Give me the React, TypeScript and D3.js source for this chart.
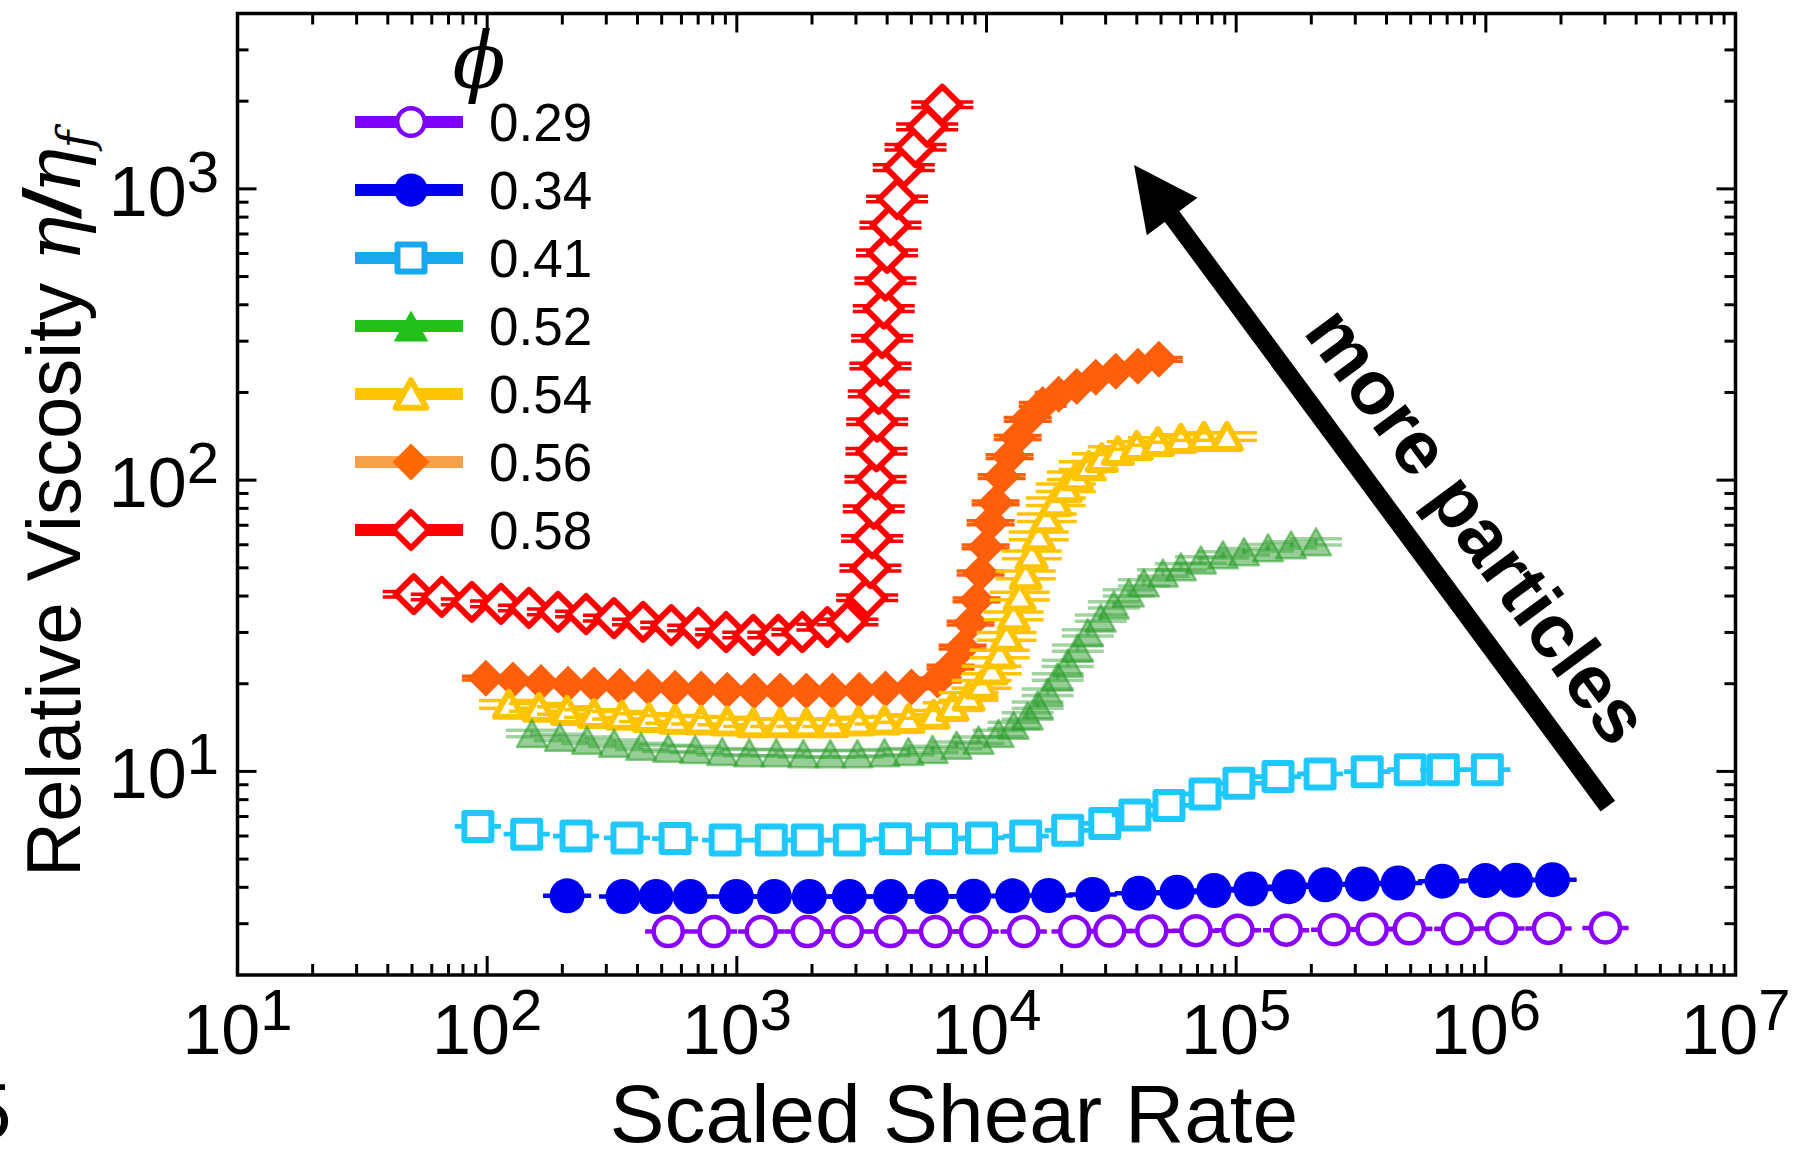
import React from "react";
import * as d3 from "d3";

// ---------------- data ----------------
const xDomain: [number, number] = [10, 1e7];
const yDomain: [number, number] = [2, 4000];
const xMajorExps = [1, 2, 3, 4, 5, 6, 7];
const yMajorExps = [1, 2, 3];
const phiValues = ["0.29", "0.34", "0.41", "0.52", "0.54", "0.56", "0.58"];

const rate029 = [531, 811, 1253, 1916, 2771, 4125, 6250, 9040, 14090, 22550, 31180, 45930, 69000, 101600, 158500, 246700, 350500, 493600, 769000, 1154000, 1782000, 3015000];
const visc029 = [2.82, 2.82, 2.82, 2.82, 2.82, 2.82, 2.82, 2.82, 2.82, 2.82, 2.83, 2.83, 2.84, 2.85, 2.85, 2.86, 2.87, 2.88, 2.88, 2.89, 2.89, 2.9];

const rate034 = [209, 350, 475, 650, 995, 1413, 1951, 2823, 4125, 6020, 8880, 12730, 17750, 26650, 40790, 57930, 81470, 114600, 162800, 227200, 319800, 445700, 668700, 995000, 1313000, 1849000];
const visc034 = [3.74, 3.72, 3.72, 3.72, 3.72, 3.72, 3.72, 3.72, 3.72, 3.72, 3.73, 3.74, 3.75, 3.78, 3.82, 3.85, 3.9, 3.95, 4.02, 4.08, 4.11, 4.14, 4.2, 4.22, 4.23, 4.25];

const rate041 = [91.8, 144, 227, 363, 566, 898, 1374, 1916, 2823, 4317, 6602, 9550, 14350, 21150, 29770, 39290, 53800, 75000, 102600, 147100, 216800, 334900, 498000, 675700, 1014000];
const visc041 = [6.47, 6.09, 6.0, 5.91, 5.88, 5.81, 5.81, 5.81, 5.81, 5.87, 5.87, 5.91, 6.0, 6.28, 6.63, 7.09, 7.64, 8.37, 9.11, 9.6, 9.8, 9.98, 10.14, 10.14, 10.14];

const rate052 = [151.1, 195.6, 251.1, 322.2, 413.5, 530.7, 681.0, 873.8, 1121, 1439, 1846, 2369, 3040, 3901, 4870, 6078, 7588, 9296, 11180, 12843, 14620, 16030, 17580, 19280, 21150, 23200, 25440, 28690, 32350, 37150, 42670, 50870, 60060, 72240, 88520, 107500, 134200, 165900, 208900];
const visc052 = [13.5, 13.1, 12.8, 12.5, 12.2, 12.0, 11.9, 11.7, 11.6, 11.6, 11.5, 11.5, 11.5, 11.6, 11.7, 11.9, 12.3, 12.8, 13.5, 14.4, 15.5, 16.9, 18.7, 21.1, 23.5, 26.5, 29.9, 33.6, 37.3, 41.0, 44.4, 48.0, 50.4, 53.2, 55.4, 56.8, 58.6, 60.0, 61.4];

const rate054 = [122.2, 161.2, 208.8, 267.9, 347.0, 445.3, 566.1, 719.6, 915.1, 1164, 1493, 1898, 2414, 3069, 3903, 4870, 6136, 7311, 8479, 9559, 10483, 11287, 12036, 12843, 13580, 14355, 15170, 16180, 17420, 18930, 20770, 22990, 25670, 28950, 33580, 40000, 48570, 60060, 74290, 91870];
const visc054 = [17.0, 16.6, 16.2, 15.8, 15.6, 15.3, 15.1, 15.0, 14.9, 14.7, 14.7, 14.7, 14.7, 14.9, 15.0, 15.2, 15.7, 16.7, 18.1, 19.9, 22.3, 25.3, 29.1, 34.2, 40.0, 47.3, 55.4, 64.4, 74.3, 84.3, 94.2, 103.6, 112.2, 119.5, 126.3, 131.5, 135.7, 139.0, 141.2, 141.2];

const rate056 = [98.8, 126.8, 164.3, 210.7, 267.9, 340.7, 441.1, 566.1, 719.6, 915.1, 1174, 1493, 1898, 2414, 3097, 3939, 5006, 6368, 7178, 8022, 8636, 9127, 9470, 9917, 10385, 10877, 11497, 12380, 13330, 14620, 16790, 19460, 22990, 27390, 32950, 40390, 49020];
const visc056 = [20.9, 20.6, 20.2, 19.9, 19.8, 19.6, 19.5, 19.3, 19.2, 19.0, 18.9, 18.9, 18.9, 18.9, 19.0, 19.2, 19.5, 20.6, 22.8, 26.7, 32.3, 38.8, 48.0, 59.0, 71.4, 83.6, 102.8, 120.5, 140.1, 161.6, 181.9, 197.0, 209.8, 225.4, 236.4, 245.9, 259.9];

const rate058 = [50.8, 65.8, 86.8, 113.6, 147, 192, 249, 322, 421, 546, 700, 906, 1164, 1466, 1829, 2305, 2773, 3327, 3428, 3483, 3535, 3591, 3624, 3648, 3702, 3760, 3819, 3876, 3936, 3997, 4124, 4385, 4663, 5197, 5787, 6653];
const visc058 = [40.6, 39.7, 38.2, 37.6, 36.4, 35.3, 34.7, 33.6, 32.6, 31.8, 31.1, 30.1, 29.4, 29.4, 30.1, 31.3, 32.6, 39.5, 49.9, 63.1, 79.7, 100.7, 125.6, 158.7, 197.8, 246.6, 307, 388, 484, 603, 751, 923, 1183, 1390, 1633, 1946];

// relative uncertainty of each series (error bar half-height, fraction of value)
const relErr = [0.004, 0.004, 0.005, 0.025, 0.03, 0.015, 0.022];

const xTitle = "Scaled Shear Rate";
const yTitle = "Relative Viscosity ";
const arrowLabel = "more particles";
const arrowTail: [number, number] = [3.08e6, 7.6];
const arrowTip: [number, number] = [3.9e4, 1207];

// ---------------- styles ----------------
const SANS = "'Liberation Sans', Arial, Helvetica, sans-serif";
const SERIF = "'DejaVu Serif', 'Liberation Serif', serif";

type Style = {
  shape: "circle" | "square" | "triangle" | "diamond";
  size: number;
  h?: number;
  fill: string;
  fillOpacity?: number;
  stroke: string;
  strokeOpacity?: number;
  sw: number;
  cap: number;
  capColor: string;
  capOpacity?: number;
  legendLine: string;
  legendFill: string;
  legendStroke: string;
  legendScale: number;
};

const styles: Style[] = [
  { shape: "circle", size: 14.5, fill: "#fff", stroke: "#8a00ff", sw: 4.5, cap: 46, capColor: "#8a00ff", legendLine: "#8000ff", legendFill: "#fff", legendStroke: "#8000ff", legendScale: 0.95 },
  { shape: "circle", size: 17.5, fill: "#0000f0", stroke: "none", sw: 0, cap: 48, capColor: "#0000f0", legendLine: "#0000f0", legendFill: "#0000f0", legendStroke: "none", legendScale: 0.95 },
  { shape: "square", size: 13.5, fill: "#fff", stroke: "#1ec8ff", sw: 6, cap: 46, capColor: "#1ec8ff", legendLine: "#18a8f0", legendFill: "#fff", legendStroke: "#18a8f0", legendScale: 1.0 },
  { shape: "triangle", size: 30, h: 27, fill: "#2e9e2e", fillOpacity: 0.5, stroke: "#2e9e2e", strokeOpacity: 0.55, sw: 2.5, cap: 52, capColor: "#2e9e2e", capOpacity: 0.45, legendLine: "#22c01a", legendFill: "#22c01a", legendStroke: "none", legendScale: 1.15 },
  { shape: "triangle", size: 28, h: 25, fill: "#fff", stroke: "#ffc400", sw: 6, cap: 60, capColor: "#ffc400", legendLine: "#ffc400", legendFill: "#fff", legendStroke: "#ffc400", legendScale: 1.1 },
  { shape: "diamond", size: 18.5, fill: "#ff5f0a", stroke: "none", sw: 0, cap: 48, capColor: "#ff5f0a", legendLine: "#f7a04c", legendFill: "#ff6a00", legendStroke: "none", legendScale: 1.0 },
  { shape: "diamond", size: 18, fill: "#fff", stroke: "#ff0000", sw: 6, cap: 62, capColor: "#ff0000", legendLine: "#ff0000", legendFill: "#fff", legendStroke: "#ff0000", legendScale: 1.0 },
];

const seriesData = [
  { xs: rate029, ys: visc029 },
  { xs: rate034, ys: visc034 },
  { xs: rate041, ys: visc041 },
  { xs: rate052, ys: visc052 },
  { xs: rate054, ys: visc054 },
  { xs: rate056, ys: visc056 },
  { xs: rate058, ys: visc058 },
];

function markerPath(shape: string, s: number, h?: number): string {
  if (shape === "triangle") {
    const hh = h ?? s;
    return `M0,${-hh / 2}L${s / 2},${hh / 2}L${-s / 2},${hh / 2}Z`;
  }
  if (shape === "diamond") return `M0,${-s}L${s},0L0,${s}L${-s},0Z`;
  if (shape === "square") return `M${-s},${-s}H${s}V${s}H${-s}Z`;
  return d3.arc()({ innerRadius: 0, outerRadius: s, startAngle: 0, endAngle: 2 * Math.PI }) as string;
}

function Marker({ st, cx, cy, legend = false }: { st: Style; cx: number; cy: number; legend?: boolean }) {
  const scale = legend ? st.legendScale : 1;
  const d = markerPath(st.shape, st.size * scale, st.h ? st.h * scale : undefined);
  return (
    <path
      d={d}
      transform={`translate(${cx},${cy})`}
      fill={legend ? st.legendFill : st.fill}
      fillOpacity={legend ? 1 : st.fillOpacity ?? 1}
      stroke={legend ? st.legendStroke : st.stroke}
      strokeOpacity={legend ? 1 : st.strokeOpacity ?? 1}
      strokeWidth={st.sw}
      strokeLinejoin="round"
    />
  );
}

export default function App() {
  const W = 1804;
  const H = 1151;
  const left = 237.5, right = 1735.5, top = 13.5, bottom = 975;
  const x = d3.scaleLog().domain(xDomain).range([left, right]);
  const y = d3.scaleLog().domain(yDomain).range([bottom, top]);

  const majorLen = 19, minorLen = 11;
  const xMinor: number[] = [];
  for (let e = 1; e < 7; e++) for (let m = 2; m <= 9; m++) xMinor.push(m * Math.pow(10, e));
  const yMinor: number[] = [];
  for (let e = 0; e < 4; e++)
    for (let m = 2; m <= 9; m++) {
      const v = m * Math.pow(10, e);
      if (v > yDomain[0] && v < yDomain[1]) yMinor.push(v);
    }

  // arrow geometry
  const tip = [x(arrowTip[0]), y(arrowTip[1])];
  const tail = [x(arrowTail[0]), y(arrowTail[1])];
  const len = Math.hypot(tail[0] - tip[0], tail[1] - tip[1]);
  const u = [(tail[0] - tip[0]) / len, (tail[1] - tip[1]) / len];
  const n = [u[1], -u[0]];
  const headLen = 64, headHalf = 31.5;
  const base = [tip[0] + headLen * u[0], tip[1] + headLen * u[1]];
  const ang = (Math.atan2(u[1], u[0]) * 180) / Math.PI;
  const labelPos = [tip[0] + 494 * u[0] + 36 * n[0], tip[1] + 494 * u[1] + 36 * n[1]];

  const order = [6, 5, 4, 3, 2, 1, 0];
  const legendY0 = 122, legendStep = 68;

  return (
    <svg width={W} height={H} style={{ position: "absolute", left: 0, top: 0, background: "#fff" }} fontFamily={SANS}>
      <rect x={0} y={0} width={W} height={H} fill="#fff" />

      {/* data */}
      {order.map((si) => {
        const st = styles[si];
        const { xs, ys } = seriesData[si];
        const e = relErr[si];
        return (
          <g key={si}>
            {xs.map((xv, i) => {
              const cx = x(xv);
              const cy = y(ys[i]);
              const y1 = y(ys[i] * (1 + e));
              const y2 = y(ys[i] * (1 - e));
              const hw = st.cap / 2;
              return (
                <g key={i}>
                  <g stroke={st.capColor} strokeOpacity={st.capOpacity ?? 1} strokeWidth={3.5} fill="none">
                    <line x1={cx} x2={cx} y1={y1} y2={y2} />
                    <line x1={cx - hw} x2={cx + hw} y1={y1} y2={y1} />
                    <line x1={cx - hw} x2={cx + hw} y1={y2} y2={y2} />
                  </g>
                  <Marker st={st} cx={cx} cy={cy} />
                </g>
              );
            })}
          </g>
        );
      })}

      {/* arrow */}
      <line x1={tail[0]} y1={tail[1]} x2={base[0] - 4 * u[0]} y2={base[1] - 4 * u[1]} stroke="#000" strokeWidth={18} />
      <path
        d={`M${tip[0]},${tip[1]}L${base[0] + headHalf * n[0]},${base[1] + headHalf * n[1]}L${base[0] - headHalf * n[0]},${base[1] - headHalf * n[1]}Z`}
        fill="#000"
      />
      <text
        transform={`translate(${labelPos[0]},${labelPos[1]}) rotate(${ang})`}
        textAnchor="middle"
        fontSize={76}
        fontWeight="bold"
        fill="#000"
      >
        {arrowLabel}
      </text>

      {/* frame */}
      <rect x={left} y={top} width={right - left} height={bottom - top} fill="none" stroke="#000" strokeWidth={3.5} />
      <g stroke="#000" strokeWidth={3}>
        {xMajorExps.map((ex) => {
          const px = x(Math.pow(10, ex));
          return (
            <g key={"xm" + ex}>
              <line x1={px} x2={px} y1={bottom} y2={bottom - majorLen} />
              <line x1={px} x2={px} y1={top} y2={top + majorLen} />
            </g>
          );
        })}
        {xMinor.map((v) => {
          const px = x(v);
          return (
            <g key={"xn" + v}>
              <line x1={px} x2={px} y1={bottom} y2={bottom - minorLen} />
              <line x1={px} x2={px} y1={top} y2={top + minorLen} />
            </g>
          );
        })}
        {yMajorExps.map((ex) => {
          const py = y(Math.pow(10, ex));
          return (
            <g key={"ym" + ex}>
              <line x1={left} x2={left + majorLen} y1={py} y2={py} />
              <line x1={right} x2={right - majorLen} y1={py} y2={py} />
            </g>
          );
        })}
        {yMinor.map((v) => {
          const py = y(v);
          return (
            <g key={"yn" + v}>
              <line x1={left} x2={left + minorLen} y1={py} y2={py} />
              <line x1={right} x2={right - minorLen} y1={py} y2={py} />
            </g>
          );
        })}
      </g>

      {/* tick labels */}
      {xMajorExps.map((ex) => (
        <text key={"xl" + ex} x={x(Math.pow(10, ex))} y={1054} textAnchor="middle" fontSize={70} fill="#000">
          10<tspan dy={-24} fontSize={58}>{ex}</tspan>
        </text>
      ))}
      {yMajorExps.map((ex) => (
        <text key={"yl" + ex} x={219} y={y(Math.pow(10, ex)) + 27} textAnchor="end" fontSize={70} fill="#000">
          10<tspan dy={-24} fontSize={58}>{ex}</tspan>
        </text>
      ))}

      {/* axis titles */}
      <text x={954} y={1142} textAnchor="middle" fontSize={82} fill="#000">
        {xTitle}
      </text>
      <text transform="translate(80,877) rotate(-90)" fontSize={76} fill="#000">
        {yTitle}
        <tspan fontFamily={SERIF} fontStyle="italic">η</tspan>
        <tspan fontFamily={SANS} fontWeight={700} fontStyle="italic" fontSize={80}>/</tspan>
        <tspan fontFamily={SERIF} fontStyle="italic">η</tspan>
        <tspan fontFamily={SERIF} fontStyle="italic" fontSize={48} dy={12}>f</tspan>
      </text>

      {/* partial panel label from neighbouring figure */}
      <text x={-32} y={1138} fontSize={78} fill="#000">5</text>

      {/* legend */}
      <text x={479} y={88} textAnchor="middle" fontFamily={SERIF} fontStyle="italic" fontSize={78} fill="#000">
        ϕ
      </text>
      {phiValues.map((lab, i) => {
        const st = styles[i];
        const cy = legendY0 + i * legendStep;
        return (
          <g key={"lg" + i}>
            <line x1={355} x2={463} y1={cy} y2={cy} stroke={st.legendLine} strokeWidth={12} />
            <Marker st={st} cx={411} cy={cy} legend />
            <text x={489} y={cy + 19} fontSize={53} fill="#000">
              {lab}
            </text>
          </g>
        );
      })}
    </svg>
  );
}
